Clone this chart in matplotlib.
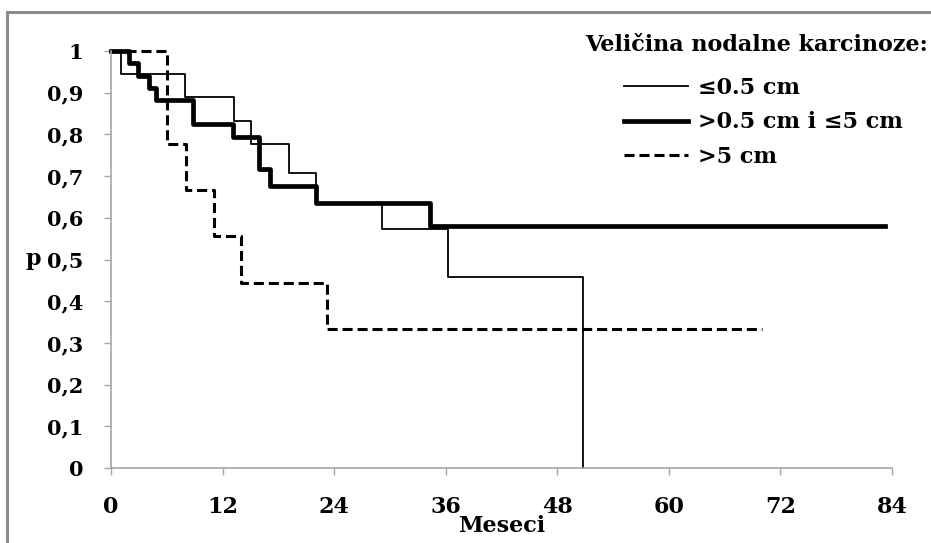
import matplotlib
matplotlib.use("Agg")
import matplotlib.pyplot as plt
from matplotlib.patches import Rectangle

# Kaplan-Meier krive, ocitane sa slike (meseci, p)
t_small = [0, 1.1, 8.0, 13.2, 15.1, 19.1, 22.1, 29.1, 36.2, 50.8]
p_small = [1, 0.944, 0.889, 0.833, 0.778, 0.708, 0.636, 0.572, 0.457, 0.0]

t_mid = [0, 1.9, 2.9, 4.1, 4.8, 8.8, 13.1, 15.9, 17.1, 22.1, 34.3, 83.3]
p_mid = [1, 0.971, 0.941, 0.912, 0.882, 0.826, 0.793, 0.716, 0.676, 0.636, 0.58, 0.58]

t_big = [0, 6.0, 8.1, 11.1, 14.0, 23.2, 70.0]
p_big = [1, 0.778, 0.667, 0.556, 0.444, 0.333, 0.333]

labels = ["≤0.5 cm", ">0.5 cm i ≤5 cm", ">5 cm"]
legend_title = "Veličina nodalne karcinoze:"

xticks = [0, 12, 24, 36, 48, 60, 72, 84]
yticks = [0, 0.1, 0.2, 0.3, 0.4, 0.5, 0.6, 0.7, 0.8, 0.9, 1]
ytick_labels = ["0", "0,1", "0,2", "0,3", "0,4", "0,5", "0,6", "0,7", "0,8", "0,9", "1"]

# tekst u originalu je sirok (razvucen Times), DejaVu Serif mu je najblizi po sirini
plt.rcParams['font.family'] = ['DejaVu Serif', 'Liberation Serif']
plt.rcParams['font.weight'] = 'bold'
fs = 16
W, H = 931, 543

fig = plt.figure(figsize=(W / 100, H / 100), dpi=100)
fig.patch.set_facecolor('white')

# siva ivica oko slike (gore i levo)
fig.add_artist(Rectangle((7 / W, -0.1), 1.2, (H - 12) / H + 0.1, transform=fig.transFigure,
                         fill=False, edgecolor='#8c8c8c', linewidth=2.2))

ax = fig.add_axes([111 / W, (H - 468) / H, 781 / W, 417 / H])

l1, = ax.step(t_small, p_small, where='post', color='black', lw=1.3, clip_on=False)
l2, = ax.step(t_mid, p_mid, where='post', color='black', lw=3.4, clip_on=False)
l3, = ax.step(t_big, p_big, where='post', color='black', lw=2.2, clip_on=False,
              dashes=(3.3, 1.6))

ax.set_xlim(0, 84)
ax.set_ylim(0, 1)
ax.set_xticks(xticks)
ax.set_yticks(yticks)
ax.set_yticklabels(ytick_labels)

for s in ['top', 'right']:
    ax.spines[s].set_visible(False)
for s in ['left', 'bottom']:
    ax.spines[s].set_color('#a6a6a6')
    ax.spines[s].set_linewidth(1.2)

ax.tick_params(axis='both', direction='out', length=5, width=1, color='#a6a6a6',
               labelsize=15)
ax.tick_params(axis='x', labelsize=fs, pad=15)
ax.tick_params(axis='y', pad=15)

ax.set_xlabel("Meseci", fontsize=fs, fontweight='bold')
ax.xaxis.set_label_coords(0.5, -0.112)
ax.set_ylabel("p", fontsize=fs, fontweight='bold', rotation=0, va='center', ha='center')
ax.yaxis.set_label_coords(-0.1, 0.5)

fig.text(585 / W, 1 - 45 / H, legend_title, fontsize=fs, fontweight='bold',
         ha='left', va='center')
ax.legend([l1, l2, l3], labels, loc='upper left', bbox_to_anchor=(624 / W, 1 - 77 / H),
          bbox_transform=fig.transFigure, frameon=False, fontsize=fs,
          handlelength=2.9, handletextpad=0.45, labelspacing=0.56,
          borderpad=0, borderaxespad=0)

fig.savefig("out.png", dpi=100)
